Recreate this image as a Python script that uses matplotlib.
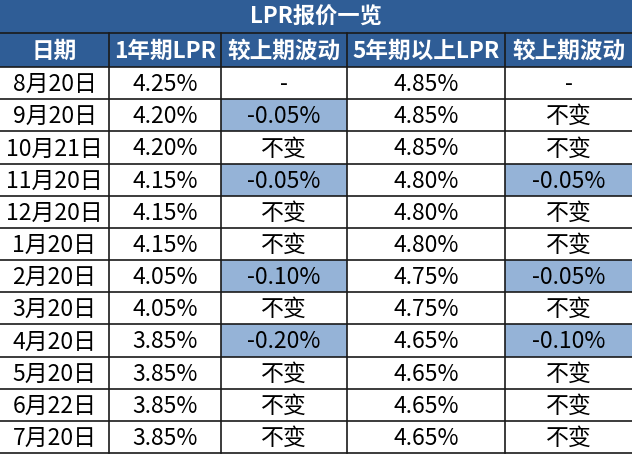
import matplotlib
matplotlib.use("Agg")
import matplotlib.pyplot as plt
from matplotlib.patches import Rectangle

plt.rcParams['font.family'] = ['Noto Sans CJK SC', 'DejaVu Sans']

title = "LPR报价一览"
headers = ["日期", "1年期LPR", "较上期波动", "5年期以上LPR", "较上期波动"]
dates = ["8月20日", "9月20日", "10月21日", "11月20日", "12月20日", "1月20日",
         "2月20日", "3月20日", "4月20日", "5月20日", "6月22日", "7月20日"]
lpr_1y = ["4.25%", "4.20%", "4.20%", "4.15%", "4.15%", "4.15%",
          "4.05%", "4.05%", "3.85%", "3.85%", "3.85%", "3.85%"]
chg_1y = ["-", "-0.05%", "不变", "-0.05%", "不变", "不变",
          "-0.10%", "不变", "-0.20%", "不变", "不变", "不变"]
lpr_5y = ["4.85%", "4.85%", "4.85%", "4.80%", "4.80%", "4.80%",
          "4.75%", "4.75%", "4.65%", "4.65%", "4.65%", "4.65%"]
chg_5y = ["-", "不变", "不变", "-0.05%", "不变", "不变",
          "-0.05%", "不变", "-0.10%", "不变", "不变", "不变"]

# layout (pixels)
W, H = 632, 456
col_edges = [0, 109, 221, 347, 505, 632]
title_h = 34
header_h = 34
row_h = (H - 2 - title_h - header_h) / len(dates)

dark = "#2F5D96"
light = "#95B3D7"
line_c = "#1a1a1a"

fig = plt.figure(figsize=(W / 100, H / 100), dpi=100)
ax = fig.add_axes([0, 0, 1, 1])
ax.set_xlim(0, W)
ax.set_ylim(H, 0)
ax.axis("off")

# title row
ax.add_patch(Rectangle((0, 0), W, title_h, facecolor=dark, edgecolor="none"))
ax.text(W / 2, title_h / 2, title, color="white", fontsize=16, fontweight="bold",
        ha="center", va="center")

# header row
y0 = title_h
ax.add_patch(Rectangle((0, y0), W, header_h, facecolor=dark, edgecolor="none"))
for i, h in enumerate(headers):
    xc = (col_edges[i] + col_edges[i + 1]) / 2
    ax.text(xc, y0 + header_h / 2, h, color="white", fontsize=16.3, fontweight="bold",
            ha="center", va="center")

columns = [dates, lpr_1y, chg_1y, lpr_5y, chg_5y]
data_top = title_h + header_h
for r in range(len(dates)):
    yt = data_top + r * row_h
    for c, col in enumerate(columns):
        val = col[r]
        if c in (2, 4) and val.startswith("-0"):
            ax.add_patch(Rectangle((col_edges[c], yt), col_edges[c + 1] - col_edges[c], row_h,
                                   facecolor=light, edgecolor="none"))
        xc = (col_edges[c] + col_edges[c + 1]) / 2
        ax.text(xc, yt + row_h / 2 + 0.5, val, color="black", fontsize=16.5,
                ha="center", va="center")

# grid lines
ax.plot([0, W], [title_h, title_h], color=line_c, lw=1.2)
bottom = data_top + len(dates) * row_h
for r in range(len(dates) + 1):
    y = data_top + r * row_h
    ax.plot([0, W], [y, y], color=line_c, lw=1.2)
for x in col_edges[1:-1]:
    ax.plot([x, x], [title_h, bottom], color=line_c, lw=1.2)

fig.savefig("out.png", dpi=100)
